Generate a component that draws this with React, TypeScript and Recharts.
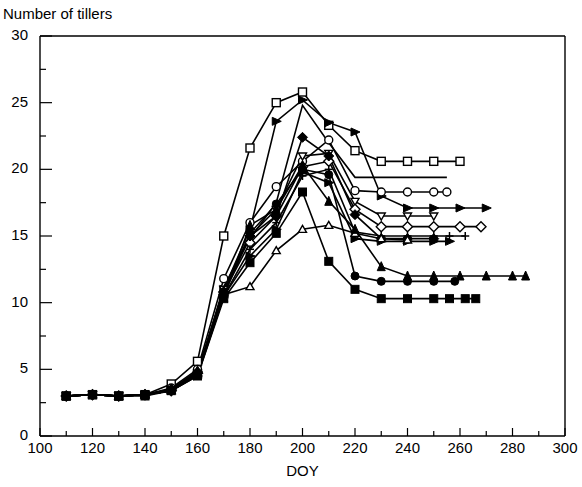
import React from "react";
import { LineChart, Line, XAxis, YAxis, ReferenceLine } from "recharts";

// tiller counts per plot, read by day of year
const doyOpenSquare = [110, 120, 130, 140, 150, 160, 170, 180, 190, 200, 210, 220, 230, 240, 250, 260];
const tillersOpenSquare = [3.0, 3.1, 3.0, 3.1, 3.9, 5.6, 15.0, 21.6, 25.0, 25.8, 23.3, 21.4, 20.6, 20.6, 20.6, 20.6];

const doyArrow = [110, 120, 130, 140, 150, 160, 170, 180, 190, 200, 210, 220, 230, 240, 250, 260, 270];
const tillersArrow = [3.0, 3.1, 3.0, 3.1, 3.5, 4.8, 11.0, 15.5, 23.6, 25.2, 23.5, 22.8, 18.0, 17.1, 17.1, 17.1, 17.1];

const doyPlain = [110, 120, 130, 140, 150, 160, 170, 180, 190, 200, 210, 220, 230, 240, 250, 255];
const tillersPlain = [3.0, 3.1, 3.0, 3.1, 3.4, 4.6, 11.2, 14.8, 17.5, 24.8, 22.0, 19.4, 19.4, 19.4, 19.4, 19.4];

const doyOpenCircle = [110, 120, 130, 140, 150, 160, 170, 180, 190, 200, 210, 220, 230, 240, 250, 255];
const tillersOpenCircle = [3.0, 3.1, 3.0, 3.1, 3.6, 5.0, 11.8, 16.0, 18.7, 20.6, 22.2, 18.4, 18.3, 18.3, 18.3, 18.3];

const doyOpenDown = [110, 120, 130, 140, 150, 160, 170, 180, 190, 200, 210, 220, 230, 240, 250];
const tillersOpenDown = [3.0, 3.1, 3.0, 3.1, 3.5, 4.7, 11.0, 15.0, 17.0, 21.0, 21.2, 17.6, 16.5, 16.5, 16.5];

const doyOpenDiamond = [110, 120, 130, 140, 150, 160, 170, 180, 190, 200, 210, 220, 230, 240, 250, 260, 268];
const tillersOpenDiamond = [3.0, 3.1, 3.0, 3.1, 3.4, 4.7, 10.8, 14.5, 16.5, 20.2, 20.6, 17.0, 15.7, 15.7, 15.7, 15.7, 15.7];

const doyPlus = [110, 120, 130, 140, 150, 160, 170, 180, 190, 200, 210, 220, 230, 240, 250, 256, 262];
const tillersPlus = [3.0, 3.1, 3.0, 3.1, 3.4, 4.6, 10.5, 14.0, 16.0, 19.5, 20.0, 15.3, 15.0, 15.0, 15.0, 15.0, 15.0];

const doyRightTri = [110, 120, 130, 140, 150, 160, 170, 180, 190, 200, 210, 220, 230, 240, 250, 256];
const tillersRightTri = [3.0, 3.1, 3.0, 3.1, 3.4, 4.5, 10.5, 13.5, 15.5, 19.8, 19.0, 14.8, 14.6, 14.6, 14.6, 14.6];

const doyDiamond = [110, 120, 130, 140, 150, 160, 170, 180, 190, 200, 210, 220, 230, 240, 250];
const tillersDiamond = [3.0, 3.1, 3.0, 3.1, 3.5, 4.8, 10.6, 15.0, 16.5, 22.4, 21.0, 16.6, 14.8, 14.8, 14.8];

const doyOpenUp = [110, 120, 130, 140, 150, 160, 170, 180, 190, 200, 210, 220, 230, 240];
const tillersOpenUp = [3.0, 3.1, 3.0, 3.1, 3.4, 4.6, 10.6, 11.2, 13.9, 15.5, 15.8, 15.2, 14.8, 14.7];

const doyTriangle = [110, 120, 130, 140, 150, 160, 170, 180, 190, 200, 210, 220, 230, 240, 250, 260, 270, 280, 285];
const tillersTriangle = [3.0, 3.1, 3.0, 3.1, 3.5, 4.9, 10.4, 15.8, 17.0, 20.3, 17.6, 15.5, 12.7, 12.0, 12.0, 12.0, 12.0, 12.0, 12.0];

const doyCircle = [110, 120, 130, 140, 150, 160, 170, 180, 190, 200, 210, 220, 230, 240, 250, 258];
const tillersCircle = [3.0, 3.1, 3.0, 3.1, 3.4, 4.7, 10.8, 15.2, 17.4, 20.0, 19.6, 12.0, 11.6, 11.6, 11.6, 11.6];

const doySquare = [110, 120, 130, 140, 150, 160, 170, 180, 190, 200, 210, 220, 230, 240, 250, 256, 262, 266];
const tillersSquare = [3.0, 3.1, 3.0, 3.0, 3.4, 4.5, 10.3, 13.0, 15.2, 18.3, 13.1, 11.0, 10.3, 10.3, 10.3, 10.3, 10.3, 10.3];

const xTicks = [100, 110, 120, 130, 140, 150, 160, 170, 180, 190, 200, 210, 220, 230, 240, 250, 260, 270, 280, 290, 300];
const yTicks = [0, 2.5, 5, 7.5, 10, 12.5, 15, 17.5, 20, 22.5, 25, 27.5, 30];

type Shape =
  | "squareOpen" | "square" | "circleOpen" | "circle" | "upOpen" | "up"
  | "downOpen" | "right" | "diamondOpen" | "diamond" | "plus" | "none";

const toPoints = (doy: number[], tillers: number[]) =>
  doy.map((d, i) => ({ doy: d, tillers: tillers[i] }));

const series: { id: string; shape: Shape; data: { doy: number; tillers: number }[] }[] = [
  { id: "openSquare", shape: "squareOpen", data: toPoints(doyOpenSquare, tillersOpenSquare) },
  { id: "arrow", shape: "right", data: toPoints(doyArrow, tillersArrow) },
  { id: "plain", shape: "none", data: toPoints(doyPlain, tillersPlain) },
  { id: "openCircle", shape: "circleOpen", data: toPoints(doyOpenCircle, tillersOpenCircle) },
  { id: "openDown", shape: "downOpen", data: toPoints(doyOpenDown, tillersOpenDown) },
  { id: "openDiamond", shape: "diamondOpen", data: toPoints(doyOpenDiamond, tillersOpenDiamond) },
  { id: "plus", shape: "plus", data: toPoints(doyPlus, tillersPlus) },
  { id: "rightTri", shape: "right", data: toPoints(doyRightTri, tillersRightTri) },
  { id: "diamond", shape: "diamond", data: toPoints(doyDiamond, tillersDiamond) },
  { id: "openUp", shape: "upOpen", data: toPoints(doyOpenUp, tillersOpenUp) },
  { id: "triangle", shape: "up", data: toPoints(doyTriangle, tillersTriangle) },
  { id: "circle", shape: "circle", data: toPoints(doyCircle, tillersCircle) },
  { id: "square", shape: "square", data: toPoints(doySquare, tillersSquare) },
];

const FONT = "'Liberation Sans', Arial, sans-serif";

const Marker = ({ cx, cy, shape }: { cx: number; cy: number; shape: Shape }) => {
  if (cx == null || cy == null || shape === "none") return <g />;
  const s = 4;
  const open = { fill: "#fff", stroke: "#000", strokeWidth: 1.4 };
  const solid = { fill: "#000", stroke: "#000", strokeWidth: 1 };
  switch (shape) {
    case "squareOpen":
      return <rect x={cx - s} y={cy - s} width={2 * s} height={2 * s} {...open} />;
    case "square":
      return <rect x={cx - s} y={cy - s} width={2 * s} height={2 * s} {...solid} />;
    case "circleOpen":
      return <circle cx={cx} cy={cy} r={s} {...open} />;
    case "circle":
      return <circle cx={cx} cy={cy} r={s} {...solid} />;
    case "upOpen":
      return <polygon points={`${cx},${cy - s} ${cx + s},${cy + s - 1} ${cx - s},${cy + s - 1}`} {...open} />;
    case "up":
      return <polygon points={`${cx},${cy - s - 1} ${cx + s},${cy + s} ${cx - s},${cy + s}`} {...solid} />;
    case "downOpen":
      return <polygon points={`${cx - s},${cy - s + 1} ${cx + s},${cy - s + 1} ${cx},${cy + s}`} {...open} />;
    case "right":
      return <polygon points={`${cx - s},${cy - s} ${cx + s + 1},${cy} ${cx - s},${cy + s}`} {...solid} />;
    case "diamondOpen":
      return <polygon points={`${cx},${cy - s - 1} ${cx + s + 1},${cy} ${cx},${cy + s + 1} ${cx - s - 1},${cy}`} {...open} />;
    case "diamond":
      return <polygon points={`${cx},${cy - s - 1} ${cx + s + 1},${cy} ${cx},${cy + s + 1} ${cx - s - 1},${cy}`} {...solid} />;
    case "plus":
      return (
        <g stroke="#000" strokeWidth={1.5}>
          <line x1={cx - s} y1={cy} x2={cx + s} y2={cy} />
          <line x1={cx} y1={cy - s} x2={cx} y2={cy + s} />
        </g>
      );
    default:
      return <g />;
  }
};

// ticks point into the plot; only every other one is labelled
const XTick = ({ x, y, payload }: any) => {
  const major = payload.value % 20 === 0;
  return (
    <g>
      <line x1={x} y1={y} x2={x} y2={y - (major ? 8 : 5)} stroke="#000" strokeWidth={1.2} />
      {major && (
        <text x={x} y={y + 17} textAnchor="middle" fontSize={15} fontFamily={FONT} fill="#000">
          {payload.value}
        </text>
      )}
    </g>
  );
};

const YTick = ({ x, y, payload }: any) => {
  const major = payload.value % 5 === 0;
  return (
    <g>
      <line x1={x} y1={y} x2={x + (major ? 12 : 6)} y2={y} stroke="#000" strokeWidth={1.2} />
      {major && (
        <text x={x - 12} y={y + 4} textAnchor="end" fontSize={15} fontFamily={FONT} fill="#000">
          {payload.value}
        </text>
      )}
    </g>
  );
};

export default function App() {
  return (
    <div style={{ position: "absolute", left: 0, top: 0, width: 582, height: 487, background: "#fff" }}>
      <div
        style={{
          position: "absolute",
          left: 3,
          top: 5,
          fontFamily: FONT,
          fontSize: 15,
          color: "#000",
          whiteSpace: "nowrap",
        }}
      >
        Number of tillers
      </div>
      <LineChart width={582} height={487} margin={{ top: 36, right: 17, bottom: 0, left: 0 }}>
        <XAxis
          type="number"
          dataKey="doy"
          domain={[100, 300]}
          ticks={xTicks}
          interval={0}
          tickSize={0}
          tickMargin={0}
          tick={<XTick />}
          height={51}
          stroke="#000"
          strokeWidth={1.4}
          label={{ value: "DOY", position: "insideBottom", offset: 11, fontSize: 15, fontFamily: FONT, fill: "#000" }}
          allowDataOverflow
        />
        <YAxis
          type="number"
          domain={[0, 30]}
          ticks={yTicks}
          interval={0}
          tickSize={0}
          tickMargin={0}
          tick={<YTick />}
          width={40}
          stroke="#000"
          strokeWidth={1.4}
          allowDataOverflow
        />
        <ReferenceLine y={30} stroke="#000" strokeWidth={1.4} />
        <ReferenceLine x={300} stroke="#000" strokeWidth={1.4} />
        {series.map((s) => (
          <Line
            key={s.id}
            data={s.data}
            dataKey="tillers"
            type="linear"
            stroke="#000"
            strokeWidth={1.6}
            isAnimationActive={false}
            dot={(p: any) => <Marker key={`${s.id}-${p.index}`} cx={p.cx} cy={p.cy} shape={s.shape} />}
            activeDot={false}
          />
        ))}
      </LineChart>
    </div>
  );
}
